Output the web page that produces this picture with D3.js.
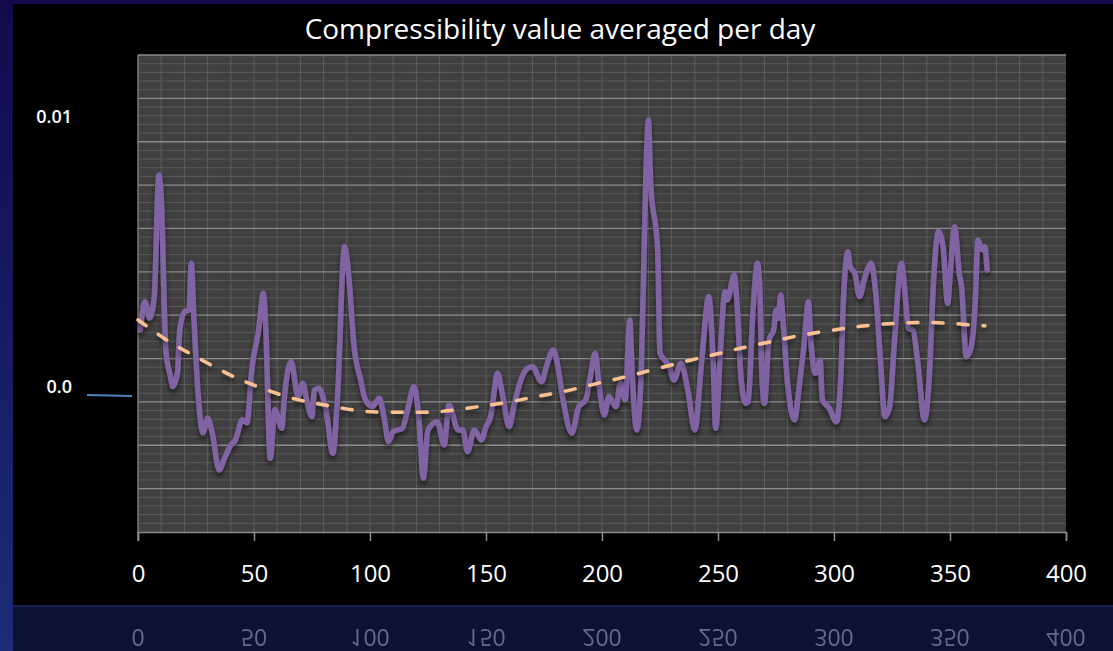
<!DOCTYPE html>
<html>
<head>
<meta charset="utf-8">
<script src="https://cdn.jsdelivr.net/npm/d3@7"></script>
<style>
  html, body { margin: 0; padding: 0; background: #000; overflow: hidden; }
  svg { display: block; font-family: "Open Sans", "DejaVu Sans", sans-serif; }
</style>
</head>
<body>
<div id="chart"></div>
<script>
// Compressibility averaged per day
const days = [1, 3, 5, 7, 9, 10, 12, 14, 15, 17, 18, 20, 22, 23, 24, 26, 28, 30, 32, 35,
  37, 40, 42, 45, 47, 49, 52, 54, 55, 57, 59, 62, 63, 66, 69, 71, 73, 75, 76, 78,
  81, 84, 86, 89, 91, 93, 96, 98, 101, 104, 106, 108, 110, 114, 116, 119, 121, 123, 125, 129,
  132, 134, 138, 140, 142, 145, 148, 150, 152, 155, 157, 160, 162, 165, 168, 170, 174, 176, 179, 181,
  183, 187, 190, 193, 195, 197, 199, 201, 203, 206, 208, 210, 212, 213, 215, 217, 219, 220, 221, 224,
  225, 227, 229, 231, 234, 237, 240, 243, 246, 248, 249, 251, 253, 254, 257, 258, 260, 262, 263, 265,
  267, 268, 269, 270, 272, 274, 275, 276, 277, 278, 280, 283, 285, 287, 289, 290, 292, 294, 295, 298,
  301, 303, 304, 306, 307, 309, 311, 313, 316, 318, 320, 322, 324, 326, 329, 331, 332, 334, 336, 339,
  341, 343, 345, 347, 349, 350, 352, 354, 355, 357, 359, 361, 362, 364, 365, 366];

const compress = [0.00240, 0.00344, 0.00284, 0.00363, 0.00812, 0.00732, 0.00166, 0.00068, 0.00031, 0.00081,
  0.00240, 0.00307, 0.00314, 0.00486, 0.00303, -0.00006, -0.00140, -0.00086, -0.00140, -0.00277,
  -0.00240, -0.00185, -0.00166, -0.00092, -0.00103, 0.00092, 0.00240, 0.00375, 0.00266, -0.00234,
  -0.00055, -0.00123, -0.00018, 0.00123, -0.00006, 0.00043, -0.00031, -0.00080, 0.00018, 0.00025,
  -0.00055, -0.00215, -0.00006, 0.00547, 0.00424, 0.00191, 0.00055, -0.00018, -0.00043, -0.00012,
  -0.00080, -0.00172, -0.00135, -0.00123, -0.00062, 0.00031, -0.00080, -0.00307, -0.00129, -0.00099,
  -0.00185, -0.00037, -0.00129, -0.00129, -0.00209, -0.00129, -0.00166, -0.00117, -0.00080, 0.00080,
  0.00006, -0.00117, -0.00043, 0.00055, 0.00099, 0.00104, 0.00049, 0.00104, 0.00166, 0.00104,
  -0.00006, -0.00141, -0.00043, -0.00018, 0.00068, 0.00154, 0.00018, -0.00074, -0.00006, -0.00043,
  0.00043, -0.00018, 0.00277, 0.00080, -0.00129, 0.00104, 0.00842, 0.01015, 0.00781, 0.00535,
  0.00154, 0.00129, 0.00104, 0.00055, 0.00117, 0.00018, -0.00129, 0.00129, 0.00363, 0.00104,
  -0.00123, 0.00154, 0.00381, 0.00351, 0.00443, 0.00363, 0.00055, -0.00031, -0.00025, 0.00301,
  0.00486, 0.00400, 0.00055, -0.00031, 0.00203, 0.00240, 0.00314, 0.00283, 0.00369, 0.00277,
  0.00043, -0.00092, 0.00031, 0.00178, 0.00344, 0.00203, 0.00080, 0.00129, -0.00018, -0.00049,
  -0.00099, 0.00080, 0.00338, 0.00529, 0.00473, 0.00449, 0.00363, 0.00424, 0.00486, 0.00375,
  0.00129, -0.00080, -0.00043, 0.00191, 0.00486, 0.00338, 0.00246, 0.00240, 0.00129, -0.00092,
  0.00055, 0.00437, 0.00603, 0.00547, 0.00338, 0.00437, 0.00621, 0.00449, 0.00400, 0.00141,
  0.00172, 0.00363, 0.00572, 0.00535, 0.00547, 0.00461];

// Dashed trend line
const trendDays = [0, 2, 13, 22, 33, 43, 52, 63, 74, 84, 97, 117, 130, 142, 152, 163, 173, 184,
  195, 206, 216, 227, 238, 249, 259, 270, 281, 292, 303, 313, 326, 336, 348, 359, 365];
const trendValues = [0.00277, 0.00265, 0.00197, 0.00155, 0.00103, 0.00058, 0.00030, -0.00006,
  -0.00028, -0.00042, -0.00064, -0.00064, -0.00064, -0.00049, -0.00037, -0.00022, -0.00003, 0.00012,
  0.00037, 0.00058, 0.00080, 0.00104, 0.00129, 0.00150, 0.00172, 0.00191, 0.00213, 0.00230,
  0.00244, 0.00256, 0.00265, 0.00268, 0.00267, 0.00258, 0.00255];

const xTicks = [0, 50, 100, 150, 200, 250, 300, 350, 400];
const yTicks = [0, 0.01];
const yTickLabels = ['0.0', '0.01'];

const W = 1113, H = 651;
const plot = { left: 138, right: 1066, top: 55, bottom: 532 };

const svg = d3.select('#chart').append('svg')
  .attr('width', W).attr('height', H)
  .attr('viewBox', `0 0 ${W} ${H}`);

const defs = svg.append('defs');
const bg = defs.append('linearGradient').attr('id', 'slideBg')
  .attr('x1', 0).attr('y1', 0).attr('x2', 0).attr('y2', 1);
bg.append('stop').attr('offset', '0%').attr('stop-color', '#120a4c');
bg.append('stop').attr('offset', '100%').attr('stop-color', '#1c2c78');

const shadow = defs.append('filter').attr('id', 'shadow')
  .attr('x', '-5%').attr('y', '-20%').attr('width', '110%').attr('height', '150%');
shadow.append('feDropShadow').attr('dx', 0).attr('dy', 4)
  .attr('stdDeviation', 2.5).attr('flood-color', '#000').attr('flood-opacity', 0.55);

// slide background, black panel and the reflection band
svg.append('rect').attr('width', W).attr('height', H).attr('fill', 'url(#slideBg)');
svg.append('rect').attr('x', 13).attr('y', 4).attr('width', W - 13).attr('height', 602).attr('fill', '#000');
svg.append('rect').attr('x', 13).attr('y', 606).attr('width', W - 13).attr('height', H - 606).attr('fill', '#0c1332');
svg.append('line').attr('x1', 13).attr('x2', W).attr('y1', 606).attr('y2', 606)
  .attr('stroke', '#1d2b68').attr('stroke-width', 1.5);

const x = d3.scaleLinear().domain([0, 400]).range([plot.left, plot.right]);
const y = d3.scaleLinear().domain([-0.00506, 0.01255]).range([plot.bottom, plot.top]);

// plot area + grid
svg.append('rect')
  .attr('x', plot.left).attr('y', plot.top)
  .attr('width', plot.right - plot.left).attr('height', plot.bottom - plot.top)
  .attr('fill', '#404040');

const gridRow = d3.scaleLinear().domain([0, 55]).range([plot.bottom, plot.top]);
const grid = svg.append('g').attr('class', 'grid');

grid.selectAll('.vgrid').data(d3.range(10, 400, 10)).join('line')
  .attr('class', 'vgrid')
  .attr('x1', d => x(d)).attr('x2', d => x(d))
  .attr('y1', plot.top).attr('y2', plot.bottom)
  .attr('stroke', '#5e5e5e').attr('stroke-width', 1);

grid.selectAll('.hgrid').data(d3.range(1, 56)).join('line')
  .attr('class', 'hgrid')
  .attr('x1', plot.left).attr('x2', plot.right)
  .attr('y1', d => gridRow(d)).attr('y2', d => gridRow(d))
  .attr('stroke', d => d % 5 === 0 ? '#8c8c8c' : '#5a5a5a')
  .attr('stroke-width', d => d % 5 === 0 ? 1.3 : 1);

// axes
svg.append('line')
  .attr('x1', plot.left).attr('x2', plot.left)
  .attr('y1', plot.top).attr('y2', plot.bottom + 9)
  .attr('stroke', '#7a7a7a').attr('stroke-width', 1.5);

const xAxis = svg.append('g')
  .attr('transform', `translate(0,${plot.bottom})`)
  .call(d3.axisBottom(x).tickValues(xTicks).tickSize(9).tickPadding(24).tickFormat(d3.format('d')));
xAxis.select('.domain').attr('stroke', '#8c8c8c').attr('stroke-width', 1.5);
xAxis.selectAll('.tick line').attr('stroke', '#8c8c8c').attr('stroke-width', 1.5);
xAxis.selectAll('.tick text')
  .attr('fill', '#fff').attr('font-size', 24)
  .attr('font-family', '"Open Sans", sans-serif');

// mirrored x labels in the reflection band
const mirror = svg.append('g')
  .attr('transform', 'translate(0,1211) scale(1,-1)')
  .attr('opacity', 0.5);
mirror.selectAll('text').data(xTicks).join('text')
  .attr('x', d => x(d)).attr('y', 582)
  .attr('text-anchor', 'middle')
  .attr('fill', '#b4c0e2').attr('font-size', 23)
  .text(d => d);

// y labels and the short blue mark at zero
svg.selectAll('.ylabel').data(yTicks).join('text')
  .attr('class', 'ylabel')
  .attr('x', 72).attr('y', d => y(d) - 1.5)
  .attr('text-anchor', 'end')
  .attr('fill', '#fff').attr('font-size', 18)
  .attr('font-weight', 600)
  .text((d, i) => yTickLabels[i]);

svg.append('line')
  .attr('x1', 87).attr('x2', 132)
  .attr('y1', y(0)).attr('y2', y(0) + 1)
  .attr('stroke', '#4f81bd').attr('stroke-width', 2);

// series
const line = d3.line()
  .x(d => x(d[0])).y(d => y(d[1]))
  .curve(d3.curveMonotoneX);

svg.append('path')
  .datum(d3.zip(days, compress))
  .attr('d', line)
  .attr('fill', 'none')
  .attr('stroke', '#8064a2')
  .attr('stroke-width', 5.5)
  .attr('stroke-linejoin', 'round')
  .attr('stroke-linecap', 'round')
  .attr('filter', 'url(#shadow)');

svg.append('path')
  .datum(d3.zip(trendDays, trendValues))
  .attr('d', line.curve(d3.curveBasis))
  .attr('fill', 'none')
  .attr('stroke', '#fac090')
  .attr('stroke-width', 3.5)
  .attr('stroke-dasharray', '10 15')
  .attr('stroke-linecap', 'round')
  .attr('filter', 'url(#shadow)');

// title
svg.append('text')
  .attr('x', 560).attr('y', 39)
  .attr('text-anchor', 'middle')
  .attr('fill', '#fff').attr('font-size', 28)
  .text('Compressibility value averaged per day');
</script>
</body>
</html>
